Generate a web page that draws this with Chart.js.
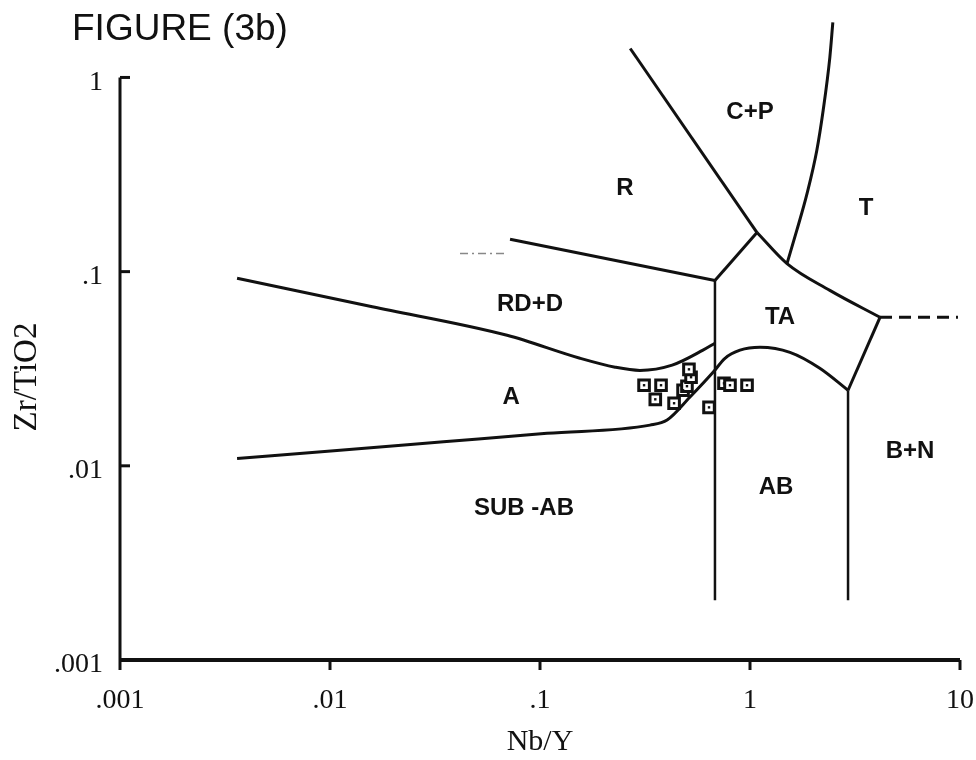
<!DOCTYPE html>
<html>
<head>
<meta charset="utf-8">
<title>Figure 3b</title>
<script src="https://cdn.jsdelivr.net/npm/chart.js@4.4.0/dist/chart.umd.min.js"></script>
<style>
    html, body { margin: 0; padding: 0; background: #fff; }
    #wrap { width: 976px; height: 760px; position: relative; }
</style>
</head>
<body>
<div id="wrap"><canvas id="diagram"></canvas></div>
<script>
// Nb/Y vs Zr/TiO2 discrimination diagram
const xTicks = [0.001, 0.01, 0.1, 1, 10];
const xTickLabels = ['.001', '.01', '.1', '1', '10'];
const yTicks = [0.001, 0.01, 0.1, 1];
const yTickLabels = ['.001', '.01', '.1', '1'];

// sample squares
const sampleNbY = [0.313, 0.377, 0.354, 0.435, 0.480, 0.501, 0.524, 0.512, 0.638, 0.752, 0.803, 0.968];
const sampleZrTi = [0.0260, 0.0260, 0.0220, 0.0210, 0.0245, 0.0257, 0.0286, 0.0314, 0.0200, 0.0266, 0.0260, 0.0260];

// field boundaries
const rdTopX = [0.00361, 0.0159, 0.0697, 0.155, 0.228, 0.299, 0.426, 0.597, 0.681];
const rdTopY = [0.0924, 0.0659, 0.0470, 0.0358, 0.0322, 0.0310, 0.0330, 0.0394, 0.0428];

const subTopX = [0.00361, 0.0108, 0.0347, 0.108, 0.334, 0.403, 0.518, 0.667, 0.760, 0.896, 1.116, 1.55, 2.15, 2.93];
const subTopY = [0.0109, 0.0120, 0.0133, 0.0147, 0.0162, 0.0172, 0.0226, 0.0303, 0.0358, 0.0394, 0.0408, 0.0384, 0.0318, 0.0245];

const leftWallX = [0.681, 0.681];
const leftWallY = [0.0900, 0.00203];
const rightWallX = [2.93, 2.93];
const rightWallY = [0.0245, 0.00203];

const rTopX = [0.072, 0.681];
const rTopY = [0.1467, 0.0900];
const taLeftX = [0.681, 1.08];
const taLeftY = [0.0900, 0.159];

const cpLineX = [0.269, 1.08];
const cpLineY = [1.41, 0.159];
const taTopX = [1.08, 1.50, 2.40, 4.16];
const taTopY = [0.159, 0.110, 0.0801, 0.0582];

const tCurveX = [1.50, 1.67, 1.87, 2.08, 2.23, 2.40, 2.48];
const tCurveY = [0.110, 0.163, 0.253, 0.421, 0.676, 1.27, 1.92];

const taRightX = [4.16, 2.93];
const taRightY = [0.0582, 0.0245];

const dashRightX = [4.16, 9.78];
const dashRightY = [0.0582, 0.0582];
const dashFaintX = [0.0416, 0.068];
const dashFaintY = [0.124, 0.124];

// field names
const regionNames = ['C+P', 'R', 'T', 'RD+D', 'TA', 'A', 'B+N', 'AB', 'SUB -AB'];
const regionX = [1.0, 0.254, 3.57, 0.0896, 1.39, 0.0728, 5.78, 1.33, 0.0839];
const regionY = [0.66, 0.268, 0.212, 0.0679, 0.0582, 0.0225, 0.0119, 0.00776, 0.00605];

function toPoints(xs, ys) {
    return xs.map((x, i) => ({ x: x, y: ys[i] }));
}

function boundary(xs, ys, curved, extra) {
    return Object.assign({
        data: toPoints(xs, ys),
        showLine: true,
        borderColor: '#111',
        borderWidth: 3,
        pointRadius: 0,
        fill: false,
        tension: curved ? 0.4 : 0,
        cubicInterpolationMode: curved ? 'monotone' : 'default',
        order: 2
    }, extra || {});
}

const serif = '"Liberation Serif", "DejaVu Serif", serif';
const sans = '"Liberation Sans", Arial, sans-serif';

const framePlugin = {
    id: 'frame',
    afterDatasetsDraw(chart) {
        const ctx = chart.ctx;
        const xs = chart.scales.x;
        const ys = chart.scales.y;
        const x0 = xs.getPixelForValue(xTicks[0]);
        const x1 = xs.getPixelForValue(xTicks[xTicks.length - 1]);
        const yBottom = ys.getPixelForValue(yTicks[0]);
        const yTop = ys.getPixelForValue(yTicks[yTicks.length - 1]);

        ctx.save();
        ctx.strokeStyle = '#111';
        ctx.fillStyle = '#111';

        // axes
        ctx.lineWidth = 3;
        ctx.beginPath();
        ctx.moveTo(x0, yTop);
        ctx.lineTo(x0, yBottom);
        ctx.stroke();
        ctx.lineWidth = 4;
        ctx.beginPath();
        ctx.moveTo(x0 - 1, yBottom);
        ctx.lineTo(x1, yBottom);
        ctx.stroke();

        // ticks: y inward, x downward
        ctx.lineWidth = 3;
        yTicks.slice(1).forEach(v => {
            const py = ys.getPixelForValue(v);
            ctx.beginPath();
            ctx.moveTo(x0, py);
            ctx.lineTo(x0 + 10, py);
            ctx.stroke();
        });
        xTicks.forEach(v => {
            const px = xs.getPixelForValue(v);
            ctx.beginPath();
            ctx.moveTo(px, yBottom);
            ctx.lineTo(px, yBottom + 10);
            ctx.stroke();
        });

        // tick labels
        ctx.font = '28px ' + serif;
        ctx.textBaseline = 'middle';
        ctx.textAlign = 'right';
        yTicks.forEach((v, i) => {
            ctx.fillText(yTickLabels[i], x0 - 17, ys.getPixelForValue(v) + 5);
        });
        ctx.textAlign = 'center';
        xTicks.forEach((v, i) => {
            ctx.fillText(xTickLabels[i], xs.getPixelForValue(v), yBottom + 41);
        });

        // axis titles
        ctx.font = '30px ' + serif;
        ctx.fillText('Nb/Y', xs.getPixelForValue(0.1), yBottom + 82);
        ctx.save();
        ctx.font = '33px ' + serif;
        ctx.translate(27, 377);
        ctx.rotate(-Math.PI / 2);
        ctx.fillText('Zr/TiO2', 0, 0);
        ctx.restore();

        // figure caption
        ctx.font = '37px ' + sans;
        ctx.textAlign = 'left';
        ctx.fillText('FIGURE (3b)', 72, 30);

        // field names
        ctx.font = 'bold 24px ' + sans;
        ctx.textAlign = 'center';
        regionNames.forEach((name, i) => {
            ctx.fillText(name, xs.getPixelForValue(regionX[i]), ys.getPixelForValue(regionY[i]));
        });

        ctx.restore();
    }
};

function renderDiagram() {
    const ctx = document.getElementById('diagram').getContext('2d');

    new Chart(ctx, {
        type: 'scatter',
        data: {
            datasets: [
                {
                    data: toPoints(sampleNbY, sampleZrTi),
                    pointStyle: 'rect',
                    pointRadius: 1.7,
                    backgroundColor: '#111',
                    borderColor: '#111',
                    borderWidth: 0,
                    order: 0
                },
                {
                    data: toPoints(sampleNbY, sampleZrTi),
                    pointStyle: 'rect',
                    pointRadius: 7.5,
                    backgroundColor: '#fff',
                    borderColor: '#111',
                    borderWidth: 3,
                    order: 1
                },
                boundary(rdTopX, rdTopY, true),
                boundary(subTopX, subTopY, true),
                boundary(leftWallX, leftWallY, false, { borderWidth: 2.5 }),
                boundary(rightWallX, rightWallY, false, { borderWidth: 2.5 }),
                boundary(rTopX, rTopY, false),
                boundary(taLeftX, taLeftY, false),
                boundary(cpLineX, cpLineY, false),
                boundary(taTopX, taTopY, true),
                boundary(tCurveX, tCurveY, true),
                boundary(taRightX, taRightY, false),
                boundary(dashRightX, dashRightY, false, { borderDash: [12, 7] }),
                boundary(dashFaintX, dashFaintY, false, { borderColor: '#888', borderWidth: 1.5, borderDash: [8, 4, 2, 4] })
            ]
        },
        options: {
            responsive: true,
            maintainAspectRatio: false,
            animation: false,
            layout: {
                padding: { left: 120, right: 16, top: 19, bottom: 100 }
            },
            scales: {
                x: { type: 'logarithmic', min: 0.001, max: 10, display: false },
                y: { type: 'logarithmic', min: 0.001, max: 2, display: false }
            },
            plugins: {
                legend: { display: false },
                tooltip: { enabled: false }
            }
        },
        plugins: [framePlugin]
    });
}

renderDiagram();
</script>
</body>
</html>
